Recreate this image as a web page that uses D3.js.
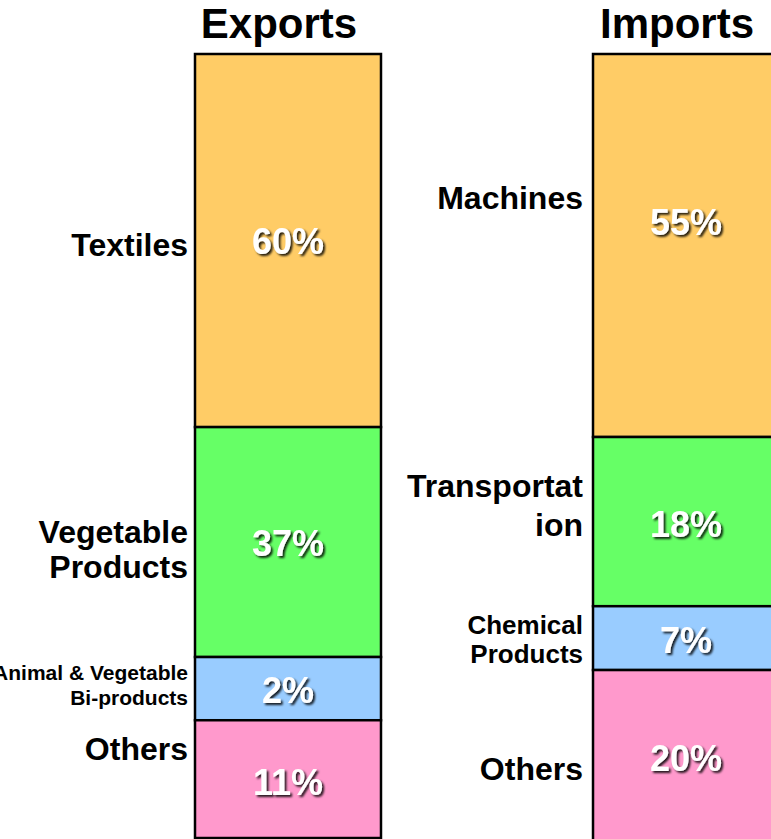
<!DOCTYPE html>
<html>
<head>
<meta charset="utf-8">
<script src="https://cdn.jsdelivr.net/npm/d3@7"></script>
<style>
  body { margin: 0; background: #fff; }
  svg { display: block; }
</style>
</head>
<body>
<svg id="chart" width="771" height="839"></svg>
<script>
// Data
var groups = ["Exports", "Imports"];

var exportCategories = ["Textiles", "Vegetable\nProducts", "Animal & Vegetable\nBi-products", "Others"];
var exportShares = [60, 37, 2, 11];             // printed percentages
var exportBlockSizes = [60.2, 37.1, 10.2, 19.0]; // drawn block heights (not to scale with shares)

var importCategories = ["Machines", "Transportat\nion", "Chemical\nProducts", "Others"];
var importShares = [55, 18, 7, 20];
var importBlockSizes = [61.8, 27.3, 10.3, 28.2];

var segmentColors = ["#FFCC66", "#66FF66", "#99CCFF", "#FF99CC"];

// Layout tweaks (hand placed labels in the original slide)
var layout = {
	Exports: {
		labelRight: 7,
		labelShift: [15.5, 1, -8.5, -19],
		labelSize: [32, 32, 21, 32],
		lineGap: [35, 35, 25, 35],
		pctShift: [13.5, 14, 14.5, 16]
	},
	Imports: {
		labelRight: 10,
		labelShift: [-36.5, -24.5, -4, 22.5],
		labelSize: [32, 32, 26, 32],
		lineGap: [37, 39, 29, 37],
		pctShift: [-10.5, 15, 15, 14]
	}
};

var font = "'Liberation Sans', Arial, Helvetica, sans-serif";
var svg = d3.select("#chart");

var defs = svg.append("defs");
var shadow = defs.append("filter").attr("id", "shadow")
	.attr("x", "-20%").attr("y", "-20%").attr("width", "140%").attr("height", "140%");
shadow.append("feDropShadow")
	.attr("dx", 2).attr("dy", 2).attr("stdDeviation", 0.8)
	.attr("flood-color", "#000").attr("flood-opacity", 0.85);

var x = d3.scaleBand().domain(groups).range([195, 779]).paddingInner(0.5327).paddingOuter(0);
var y = d3.scaleLinear().domain([0, 126.5]).range([54, 838]);

function buildStack(cats, shares, sizes) {
	var rows = [];
	var acc = 0;
	for (var i = 0; i < cats.length; i++) {
		rows.push({ cat: cats[i], share: shares[i], y0: acc, y1: acc + sizes[i], idx: i });
		acc += sizes[i];
	}
	return rows;
}

var stacks = {
	Exports: buildStack(exportCategories, exportShares, exportBlockSizes),
	Imports: buildStack(importCategories, importShares, importBlockSizes)
};

groups.forEach(function(g) {
	var gx = x(g);
	var bw = x.bandwidth();
	var lay = layout[g];
	var grp = svg.append("g").attr("class", "bar-" + g);

	// title
	grp.append("text")
		.attr("x", gx + bw / 2 - 9).attr("y", 38)
		.attr("text-anchor", "middle")
		.style("font-family", font).style("font-weight", "bold")
		.style("font-size", "42px").style("fill", "#000")
		.text(g);

	// blocks
	grp.selectAll("rect").data(stacks[g]).enter().append("rect")
		.attr("x", gx).attr("width", bw)
		.attr("y", function(d) { return y(d.y0); })
		.attr("height", function(d) { return y(d.y1) - y(d.y0); })
		.attr("fill", function(d) { return segmentColors[d.idx]; })
		.attr("stroke", "#000").attr("stroke-width", 2.5);

	// percentages
	grp.selectAll("text.pct").data(stacks[g]).enter().append("text")
		.attr("class", "pct")
		.attr("x", gx + bw / 2)
		.attr("y", function(d) { return (y(d.y0) + y(d.y1)) / 2 + lay.pctShift[d.idx]; })
		.attr("text-anchor", "middle")
		.attr("filter", "url(#shadow)")
		.style("font-family", font).style("font-weight", "bold")
		.style("font-size", "36px").style("fill", "#fff")
		.text(function(d) { return d.share + "%"; });

	// category labels
	stacks[g].forEach(function(d) {
		var mid = (y(d.y0) + y(d.y1)) / 2;
		var t = grp.append("text")
			.attr("class", "cat")
			.attr("text-anchor", "end")
			.style("font-family", font).style("font-weight", "bold")
			.style("font-size", lay.labelSize[d.idx] + "px").style("fill", "#000");
		var lines = d.cat.split(/\n/);
		for (var i = 0; i < lines.length; i++) {
			t.append("tspan")
				.attr("x", gx - lay.labelRight)
				.attr("y", mid + lay.labelShift[d.idx] + i * lay.lineGap[d.idx])
				.text(lines[i]);
		}
	});
});
</script>
</body>
</html>
